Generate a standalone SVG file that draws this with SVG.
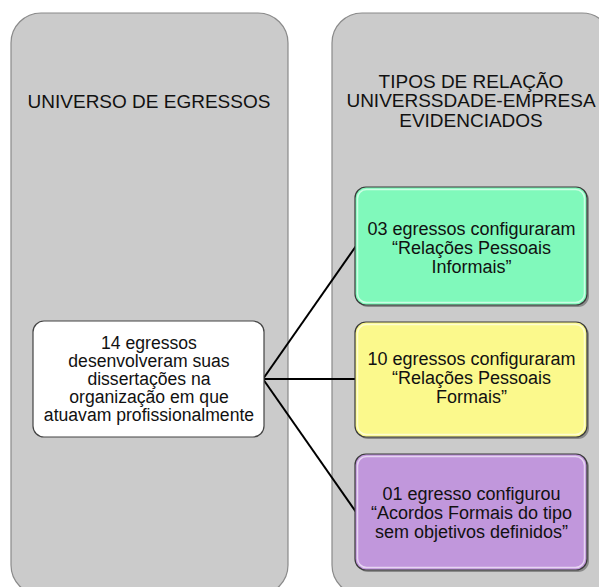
<svg xmlns="http://www.w3.org/2000/svg" width="599" height="587" viewBox="0 0 599 587">
  <style>
    .panel { fill: #cbcbcb; stroke: #8a8a8a; stroke-width: 1.2; }
    .t { font-family: "Liberation Sans", Arial, sans-serif; fill: #111; text-anchor: middle; }
    .title { font-size: 19px; }
    .body { font-size: 18px; }
    .cbody { font-size: 17.6px; }
    .box { stroke: #3a3a3a; stroke-width: 1.2; }
    .shadow { fill: #555; opacity: 0.55; }
    .hl { fill: none; stroke: #ffffff; stroke-opacity: 0.6; stroke-width: 1.5; }
    .conn { stroke: #000; stroke-width: 2; fill: none; }
  </style>
  <rect width="599" height="587" fill="#ffffff"/>
  <g id="panel-left">
    <rect class="panel" x="11" y="13" width="277" height="582" rx="30" ry="30"/>
    <text class="t title" x="149" y="108">UNIVERSO DE EGRESSOS</text>
  </g>
  <g id="panel-right">
    <rect class="panel" x="332" y="13" width="280" height="582" rx="30" ry="30"/>
    <text class="t title" x="471" y="88">TIPOS DE RELAÇÃO</text>
    <text class="t title" x="471" y="107">UNIVERSSDADE-EMPRESA</text>
    <text class="t title" x="471" y="127">EVIDENCIADOS</text>
  </g>
  <g id="connectors">
    <line class="conn" x1="263" y1="379" x2="356" y2="246"/>
    <line class="conn" x1="263" y1="379" x2="356" y2="379"/>
    <line class="conn" x1="263" y1="379" x2="356" y2="512"/>
  </g>
  <g id="node-center">
    <rect x="33" y="321" width="231" height="116" rx="11" ry="11" fill="#ffffff" stroke="#444" stroke-width="1.2"/>
    <text class="t cbody" x="149" y="348.5">14 egressos</text>
    <text class="t cbody" x="149" y="366.5">desenvolveram suas</text>
    <text class="t cbody" x="149" y="384.5">dissertações na</text>
    <text class="t cbody" x="149" y="402.5">organização em que</text>
    <text class="t cbody" x="149" y="420.5">atuavam profissionalmente</text>
  </g>
  <g id="node-green">
    <rect class="shadow" x="357" y="189" width="232" height="118" rx="11" ry="11"/>
    <rect class="box" x="355" y="187" width="232" height="118" rx="11" ry="11" fill="#80f9bb"/>
    <rect class="hl" x="357.5" y="189.5" width="227" height="113" rx="9" ry="9"/>
    <text class="t body" x="471.5" y="235">03 egressos configuraram</text>
    <text class="t body" x="471.5" y="254">“Relações Pessoais</text>
    <text class="t body" x="471.5" y="273">Informais”</text>
  </g>
  <g id="node-yellow">
    <rect class="shadow" x="357" y="324" width="232" height="115" rx="11" ry="11"/>
    <rect class="box" x="355" y="322" width="232" height="115" rx="11" ry="11" fill="#fbf98c"/>
    <rect class="hl" x="357.5" y="324.5" width="227" height="110" rx="9" ry="9"/>
    <text class="t body" x="471.5" y="365">10 egressos configuraram</text>
    <text class="t body" x="471.5" y="384">“Relações Pessoais</text>
    <text class="t body" x="471.5" y="403">Formais”</text>
  </g>
  <g id="node-purple">
    <rect class="shadow" x="357" y="456" width="232" height="116" rx="11" ry="11"/>
    <rect class="box" x="355" y="454" width="232" height="116" rx="11" ry="11" fill="#c197dc"/>
    <rect class="hl" x="357.5" y="456.5" width="227" height="111" rx="9" ry="9"/>
    <text class="t body" x="471.5" y="500">01 egresso configurou</text>
    <text class="t body" x="471.5" y="519">“Acordos Formais do tipo</text>
    <text class="t body" x="471.5" y="538">sem objetivos definidos”</text>
  </g>
</svg>
